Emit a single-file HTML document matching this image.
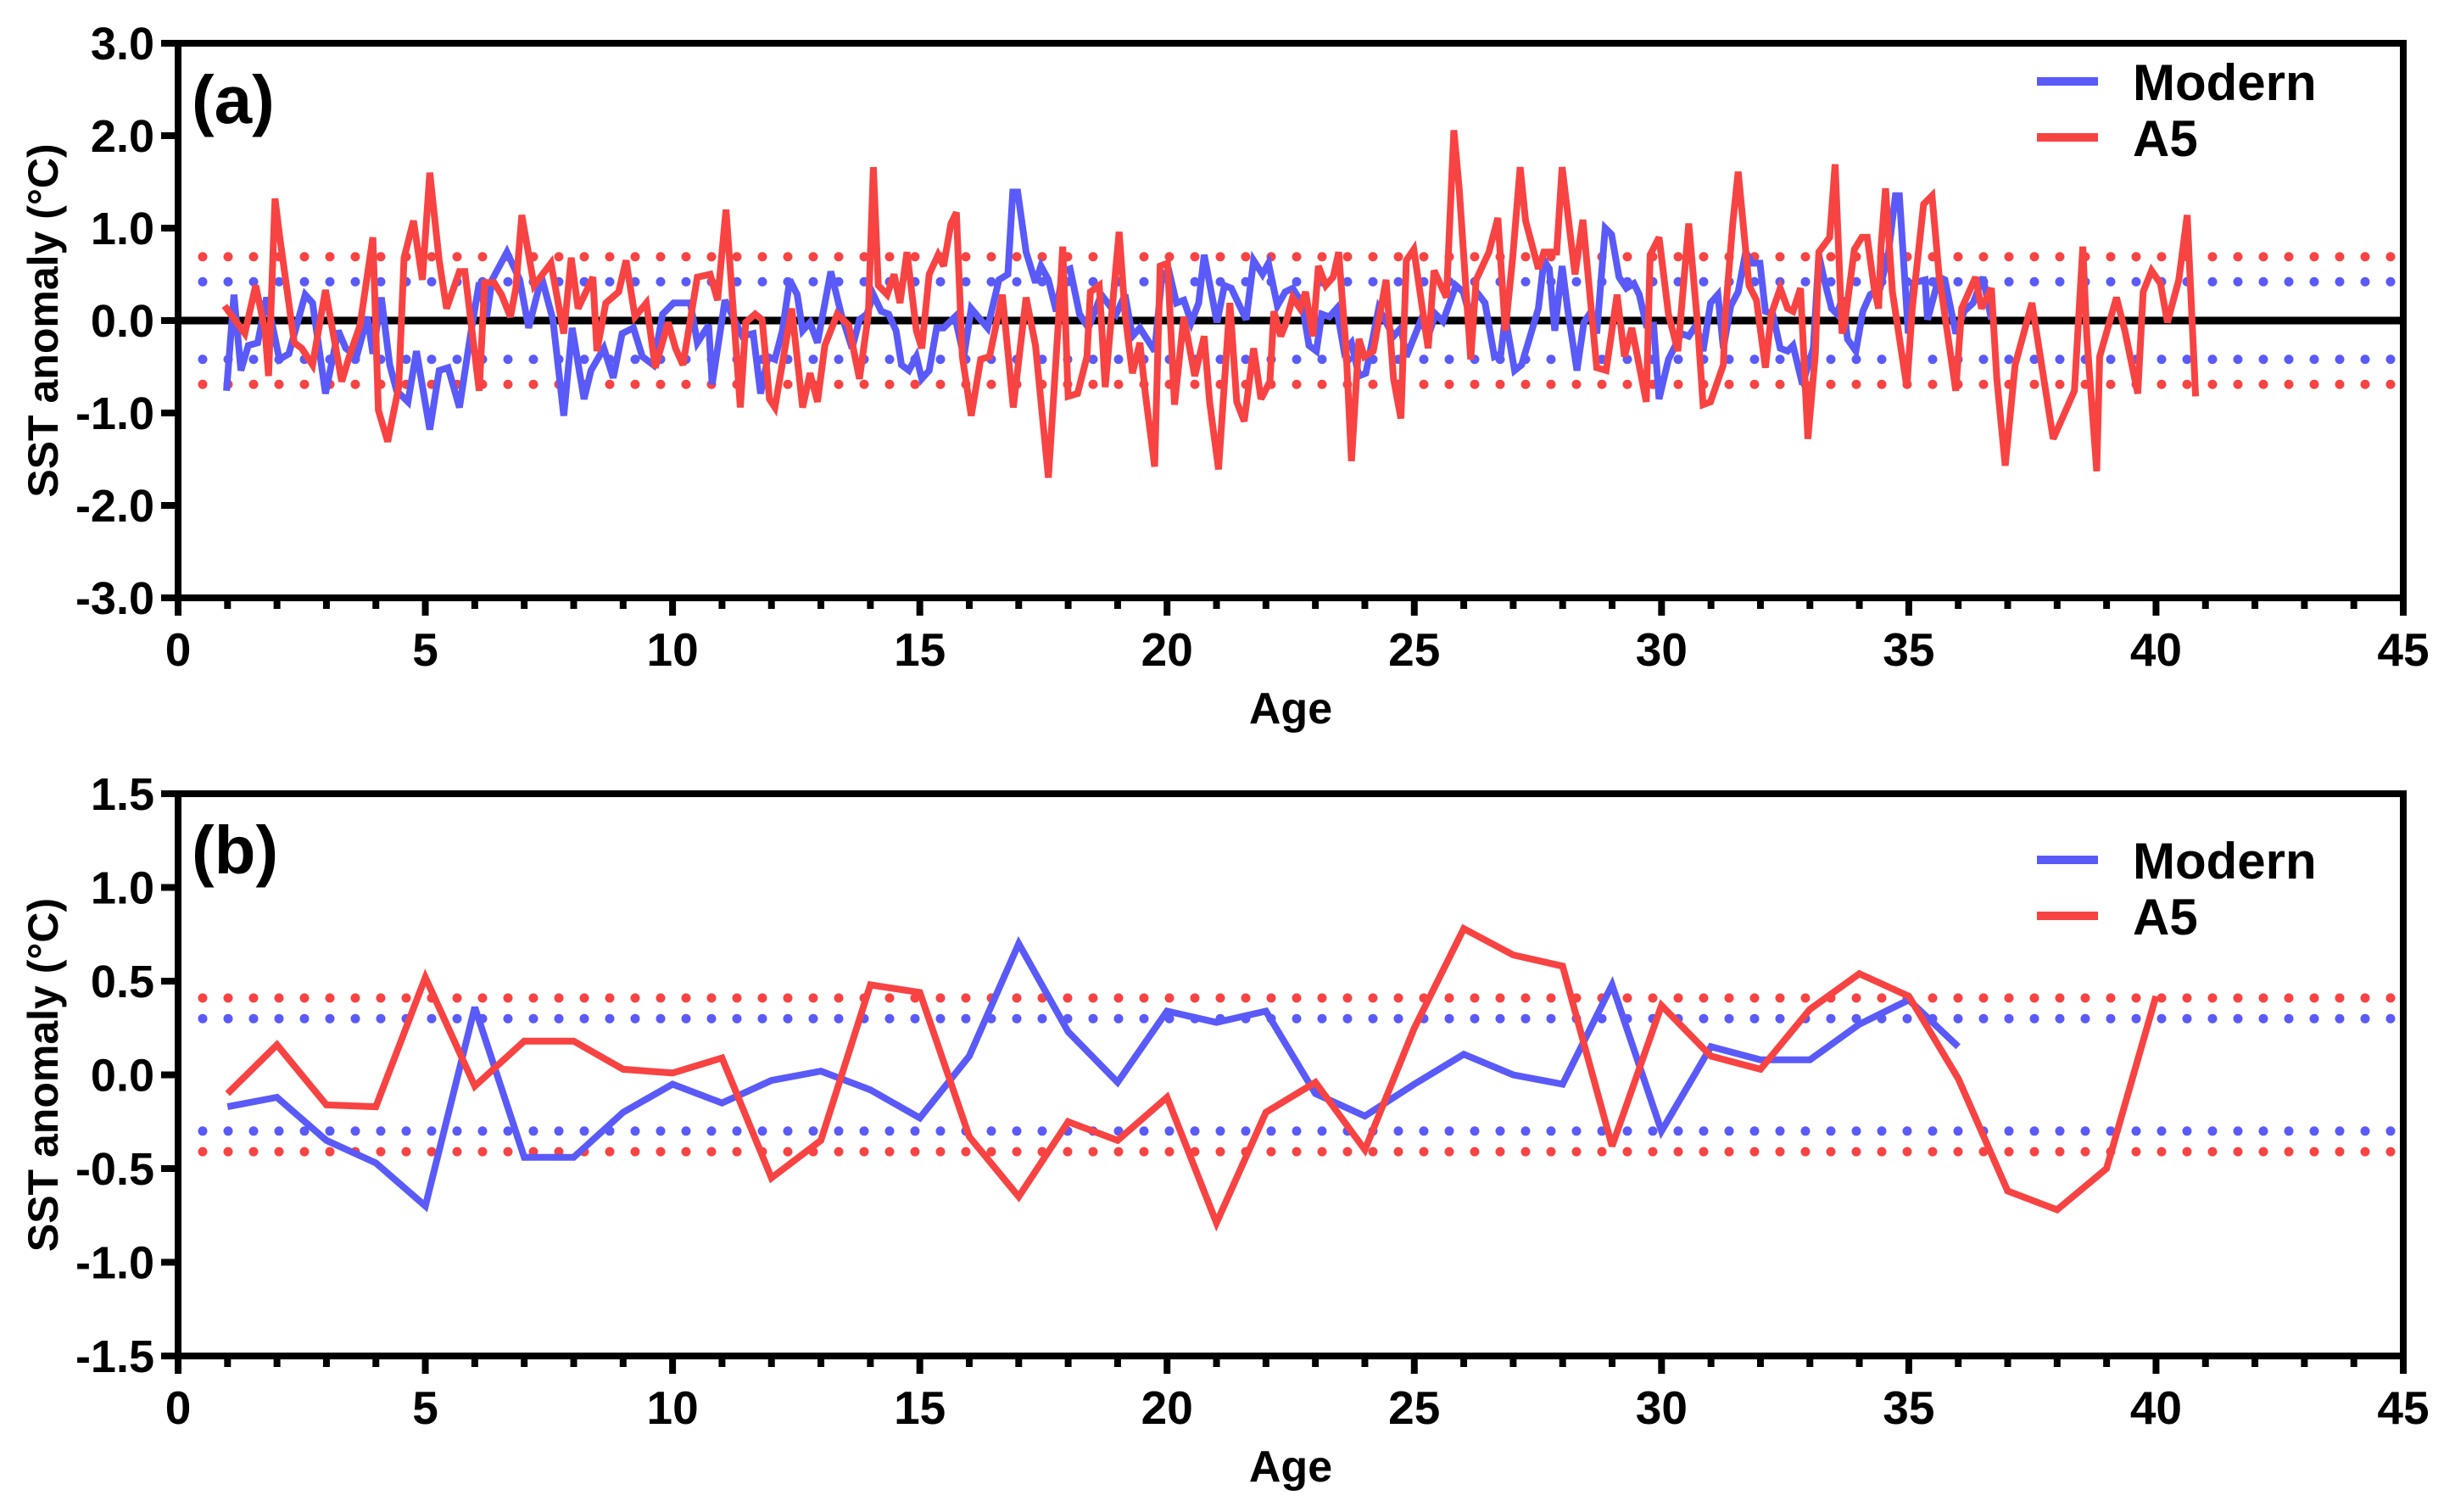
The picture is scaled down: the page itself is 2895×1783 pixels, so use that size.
<!DOCTYPE html>
<html><head><meta charset="utf-8">
<style>
html,body{margin:0;padding:0;background:#fff;}
svg{display:block;font-family:"Liberation Sans",Arial,sans-serif;font-weight:bold;}
</style></head>
<body>
<svg id="chart" width="2895" height="1783" viewBox="0 0 2895 1783" xmlns="http://www.w3.org/2000/svg">
<g id="panelA"></g>
<g id="panelB"></g>
</svg>
<script>
// ---------- Panel (a) data ----------
const modernAgeA = [0.98,1.13,1.27,1.42,1.61,1.79,2.05,2.24,2.57,2.72,2.98,3.24,3.39,3.61,3.83,3.94,4.11,4.28,4.42,4.65,4.82,5.09,5.28,5.46,5.69,5.91,6.09,6.24,6.35,6.65,6.91,7.09,7.35,7.58,7.80,7.97,8.21,8.35,8.61,8.80,8.98,9.21,9.39,9.61,9.80,10.02,10.36,10.50,10.73,10.80,11.06,
11.41,11.63,11.78,11.93,12.07,12.22,12.37,12.52,12.63,12.78,12.93,13.20,13.41,13.63,13.78,13.93,14.06,14.22,14.37,14.52,14.63,14.78,14.93,15.04,15.19,15.34,15.48,15.71,15.89,16.04,16.37,16.60,16.78,16.88,16.98,17.15,17.34,17.45,17.60,17.76,17.89,18.04,18.23,18.41,18.67,18.97,19.15,19.30,19.45,19.75,19.90,20.04,20.19,20.34,20.49,20.64,20.75,21.01,21.16,21.30,21.60,21.75,21.93,22.05,22.23,
22.39,22.54,22.73,22.87,23.02,23.13,23.28,23.43,23.58,23.73,23.88,24.02,24.28,24.58,24.73,24.84,25.14,25.28,25.43,25.58,25.84,25.99,26.14,26.26,26.43,26.62,26.75,26.84,27.03,27.17,27.51,27.62,27.73,27.84,27.99,28.10,28.29,28.43,28.58,28.69,28.86,28.99,29.14,29.29,29.44,29.55,29.69,29.84,29.95,30.14,30.40,30.55,30.70,30.84,30.99,31.14,31.25,31.40,31.55,31.70,31.84,31.99,32.10,32.25,32.40,32.55,32.66,32.85,33.07,33.18,33.29,33.44,33.55,33.66,
33.76,33.93,34.07,34.22,34.42,34.59,34.73,34.81,34.99,35.10,35.33,35.38,35.61,35.73,35.95,36.12,36.30,36.50,36.67];
const modernValA = [-0.76,0.28,-0.54,-0.27,-0.24,0.25,-0.42,-0.36,0.28,0.19,-0.79,-0.11,-0.30,-0.39,0.04,-0.36,0.25,-0.48,-0.76,-0.88,-0.33,-1.18,-0.54,-0.51,-0.94,-0.17,0.41,0.04,0.44,0.74,0.44,-0.08,0.47,0.01,-1.03,-0.08,-0.85,-0.54,-0.30,-0.62,-0.14,-0.08,-0.39,-0.48,0.07,0.19,0.19,-0.24,-0.05,-0.69,0.22,
-0.17,-0.14,-0.79,-0.39,-0.42,-0.11,0.44,0.28,-0.11,-0.02,-0.24,0.53,0.07,-0.30,0.01,0.07,0.28,0.10,0.07,-0.11,-0.48,-0.54,-0.39,-0.63,-0.54,-0.08,-0.08,0.04,-0.39,0.13,-0.08,0.44,0.50,1.39,1.39,0.74,0.41,0.59,0.44,0.10,0.53,0.56,0.07,-0.08,0.28,0.07,0.28,-0.17,-0.08,-0.33,0.50,0.53,0.19,0.22,-0.02,0.19,0.71,-0.02,0.38,0.35,0.01,0.65,0.50,0.62,0.16,
0.31,0.35,0.19,-0.27,-0.33,0.07,0.04,0.13,-0.33,-0.24,-0.60,-0.57,0.13,-0.17,-0.08,-0.39,0.01,-0.17,0.07,-0.01,0.38,0.31,0.01,0.31,0.19,-0.39,-0.36,0.04,-0.54,-0.48,0.13,0.65,0.56,-0.11,0.59,0.13,-0.54,-0.02,0.10,-0.14,1.00,0.93,0.47,0.35,0.40,0.28,-0.05,-0.05,-0.85,-0.42,-0.14,-0.17,-0.05,-0.33,0.19,0.28,-0.30,0.16,0.31,0.74,0.62,0.62,0.10,0.07,-0.30,-0.33,-0.27,-0.69,-0.30,0.71,0.44,0.13,0.07,0.25,
-0.20,-0.33,0.10,0.28,0.35,0.74,1.35,1.35,-0.14,0.41,0.44,0.01,0.47,0.44,-0.14,0.10,0.19,0.47,0.01];
const a5AgeA = [0.94,1.35,1.57,1.76,1.83,1.96,2.05,2.35,2.50,2.72,2.98,3.31,3.46,3.68,3.94,4.05,4.24,4.46,4.57,4.76,4.94,5.09,5.28,5.43,5.69,5.80,6.09,6.20,6.39,6.54,6.72,6.83,6.95,7.20,7.54,7.80,7.95,8.09,8.39,8.47,8.65,8.91,9.06,9.24,9.47,9.65,9.91,10.06,10.21,10.50,10.76,10.91,11.08,
11.37,11.48,11.67,11.81,11.96,12.07,12.41,12.63,12.78,12.93,13.08,13.33,13.56,13.78,13.96,14.06,14.16,14.34,14.48,14.60,14.74,14.93,15.04,15.19,15.37,15.48,15.63,15.74,15.86,16.04,16.23,16.41,16.67,16.89,17.15,17.34,17.60,17.82,17.89,18.00,18.19,18.38,18.45,18.63,18.75,18.89,19.03,19.15,19.30,19.45,19.56,19.75,19.86,20.01,20.15,20.34,20.56,20.75,20.86,21.04,21.27,21.41,21.56,21.75,21.90,22.08,22.16,22.30,
22.39,22.54,22.69,22.80,22.95,23.06,23.21,23.36,23.47,23.62,23.73,23.88,23.99,24.17,24.43,24.58,24.73,24.84,24.99,25.28,25.40,25.65,25.80,25.91,26.14,26.25,26.51,26.69,26.84,26.99,27.14,27.25,27.51,27.62,27.88,27.99,28.25,28.41,28.69,28.88,29.10,29.25,29.40,29.69,29.77,29.95,30.14,30.33,30.55,30.73,30.84,30.99,31.25,31.29,31.44,31.55,31.77,31.92,32.10,32.22,32.40,32.55,32.66,32.81,32.96,33.11,33.18,33.40,33.51,33.65,
33.70,33.90,34.05,34.16,34.30,34.39,34.44,34.53,34.67,34.96,35.07,35.30,35.47,35.61,35.95,36.07,36.12,36.35,36.47,36.67,36.78,36.95,37.15,37.49,37.92,38.35,38.52,38.60,38.80,38.86,39.20,39.37,39.63,39.74,39.91,40.09,40.23,40.46,40.63,40.80];
const a5ValA = [0.16,-0.14,0.38,-0.11,-0.60,1.32,0.93,-0.24,-0.30,-0.48,0.33,-0.66,-0.39,-0.05,0.90,-0.97,-1.31,-0.72,0.68,1.08,0.44,1.60,0.65,0.13,0.53,0.53,-0.76,0.41,0.41,0.28,0.04,0.35,1.14,0.38,0.62,-0.14,0.68,0.13,0.47,-0.33,0.19,0.31,0.65,0.04,0.19,-0.51,-0.02,-0.30,-0.48,0.47,0.50,0.22,1.20,
-0.94,-0.02,0.07,0.01,-0.85,-0.94,0.13,-0.94,-0.57,-0.88,-0.27,0.07,-0.05,-0.63,0.07,1.66,0.38,0.28,0.50,0.19,0.74,-0.11,-0.30,0.50,0.71,0.59,1.05,1.17,-0.39,-1.03,-0.42,-0.39,0.28,-0.94,0.25,-0.27,-1.70,0.13,0.80,-0.82,-0.79,-0.39,0.31,0.38,-0.72,0.13,0.96,0.07,-0.57,-0.24,-0.79,-1.58,0.59,0.62,-0.91,0.04,-0.60,-0.17,-0.88,-1.61,0.19,-0.88,-1.09,-0.30,-0.85,-0.66,0.10,-0.17,
-0.05,0.25,0.13,0.31,-0.17,0.59,0.38,0.47,0.74,-0.30,-1.52,-0.20,-0.39,-0.33,0.44,-0.63,-1.06,0.65,0.77,-0.30,0.54,0.25,2.06,1.42,-0.42,0.44,0.74,1.11,-0.11,0.68,1.66,1.08,0.56,0.74,0.74,1.66,0.50,1.09,-0.51,-0.54,0.28,-0.39,-0.08,-0.88,0.71,0.90,0.07,-0.33,1.05,-0.05,-0.91,-0.88,-0.48,0.07,1.05,1.61,0.38,0.22,-0.51,0.07,0.35,0.13,0.10,0.35,-1.28,-0.36,0.74,0.90,1.69,-0.14,
-0.05,0.77,0.90,0.90,0.35,0.13,0.80,1.43,0.31,-0.72,0.13,1.26,1.35,0.50,-0.76,0.13,0.19,0.47,0.13,0.35,-0.63,-1.57,-0.48,0.19,-1.28,-0.76,0.80,-0.17,-1.63,-0.39,0.25,-0.11,-0.79,0.31,0.54,0.40,-0.02,0.44,1.14,-0.82];
const modernBandA = [0.42, -0.42];
const a5BandA = [0.69, -0.69];

// ---------- Panel (b) data ----------
const modernAgeB = [1,2,3,4,5,6,7,8,9,10,11,12,13,14,15,16,17,18,19,20,21,22,23,24,25,26,27,28,29,30,31,32,33,34,35,36];
const modernValB = [-0.17,-0.12,-0.35,-0.47,-0.70,0.36,-0.44,-0.44,-0.20,-0.05,-0.15,-0.03,0.02,-0.08,-0.23,0.10,0.70,0.23,-0.04,0.34,0.28,0.34,-0.10,-0.22,-0.05,0.11,0.00,-0.05,0.48,-0.30,0.15,0.08,0.08,0.27,0.40,0.15];
const a5AgeB = [1,2,3,4,5,6,7,8,9,10,11,12,13,14,15,16,17,18,19,20,21,22,23,24,25,26,27,28,29,30,31,32,33,34,35,36,37,38,39,40];
const a5ValB = [-0.10,0.16,-0.16,-0.17,0.52,-0.06,0.18,0.18,0.03,0.01,0.09,-0.55,-0.35,0.48,0.44,-0.33,-0.65,-0.25,-0.35,-0.12,-0.79,-0.20,-0.04,-0.40,0.25,0.78,0.64,0.58,-0.38,0.37,0.10,0.03,0.35,0.54,0.42,-0.02,-0.62,-0.72,-0.50,0.42];
const modernBandB = [0.30, -0.30];
const a5BandB = [0.41, -0.41];

// ---------- Axis tick labels ----------
const xTicks = [0,5,10,15,20,25,30,35,40,45];
const yTicksA = [3,2,1,0,-1,-2,-3];
const yTickLabelsA = ["3.0","2.0","1.0","0.0","-1.0","-2.0","-3.0"];
const yTicksB = [1.5,1,0.5,0,-0.5,-1,-1.5];
const yTickLabelsB = ["1.5","1.0","0.5","0.0","-0.5","-1.0","-1.5"];

const NS = "http://www.w3.org/2000/svg";
const BLUE = "#5a5af8", RED = "#f84343";
const X0 = 210, X1 = 2834;
function xScale(a){ return X0 + (a/45)*(X1-X0); }
function mk(tag, attrs, parent){
  const e = document.createElementNS(NS, tag);
  for (const k in attrs) e.setAttribute(k, attrs[k]);
  parent.appendChild(e);
  return e;
}

function drawPanel(g, cfg){
  const yS = v => cfg.yZero - v*cfg.unit;
  const bands = [[cfg.a5Band, RED, "a5"], [cfg.modBand, BLUE, "modern"]];
  bands.forEach(([vals, col, nm]) => {
    vals.forEach((v, i) => {
      const l = mk("line", {x1: 239, x2: X1-6, y1: yS(v), y2: yS(v), stroke: col, "stroke-width": 11, "stroke-linecap": "round", "stroke-dasharray": "0 30"}, g);
      
      
    });
  });
  if (cfg.zeroLine) {
    const z = mk("line", {x1: X0, x2: X1, y1: yS(0), y2: yS(0), stroke: "#000", "stroke-width": 9}, g);
    
    
  }
  const series = [[cfg.modAge, cfg.modVal, BLUE, "modern-series-line"], [cfg.a5Age, cfg.a5Val, RED, "a5-series-line"]];
  series.forEach(([ages, vals, col, nm]) => {
    let d = "";
    ages.forEach((a, i) => { d += (i ? "L" : "M") + xScale(a).toFixed(1) + " " + yS(vals[i]).toFixed(1); });
    const p = mk("path", {d: d, fill: "none", stroke: col, "stroke-width": 8, "stroke-linejoin": "miter", "stroke-miterlimit": 3}, g);
    
    
  });
  const top = yS(cfg.yTicks[0]), bot = yS(cfg.yTicks[cfg.yTicks.length-1]);
  const fr = mk("rect", {x: X0, y: top, width: X1-X0, height: bot-top, fill: "none", stroke: "#000", "stroke-width": 8}, g);
  
  
  cfg.yTicks.forEach((v, i) => {
    const t = mk("line", {x1: X0-20, x2: X0, y1: yS(v), y2: yS(v), stroke: "#000", "stroke-width": 8}, g);
    
    
    const tx = mk("text", {x: 182, y: yS(v)+19, "text-anchor": "end", "font-size": 54, fill: "#000"}, g);
    tx.textContent = cfg.yLabels[i];
    
    
  });
  for (let a = 0; a <= 45; a++) {
    const major = a % 5 === 0;
    const t = mk("line", {x1: xScale(a), x2: xScale(a), y1: bot, y2: bot + (major ? 21 : 13), stroke: "#000", "stroke-width": 8}, g);
    
    
  }
  xTicks.forEach(a => {
    const tx = mk("text", {x: xScale(a), y: bot + 80, "text-anchor": "middle", "font-size": 55, fill: "#000"}, g);
    tx.textContent = String(a);
    
    
  });
  const xt = mk("text", {x: (X0+X1)/2, y: bot + 148, "text-anchor": "middle", "font-size": 52, fill: "#000"}, g);
  xt.textContent = "Age";
  
  
  const cy = (top+bot)/2;
  const yt = mk("text", {x: 0, y: 0, transform: "translate(68," + cy + ") rotate(-90)", "text-anchor": "middle", "font-size": 50, fill: "#000"}, g);
  yt.textContent = "SST anomaly (°C)";
  
  
  const pl = mk("text", {x: 226, y: top + 94, "font-size": 80, fill: "#000"}, g);
  pl.textContent = cfg.label;
  
  
  const lg = mk("g", {}, g);
  
  
  [["Modern", BLUE, 0], ["A5", RED, 1]].forEach(([name, col, i]) => {
    const by = cfg.legendY + i*66;
    const ln = mk("line", {x1: 2402, x2: 2474, y1: by-22, y2: by-22, stroke: col, "stroke-width": 10}, lg);
    
    
    const tx = mk("text", {x: 2515, y: by, "font-size": 60, fill: "#000"}, lg);
    tx.textContent = name;
    
    
  });
}

drawPanel(document.getElementById("panelA"), {
  yZero: 378, unit: 109, yTicks: yTicksA, yLabels: yTickLabelsA, zeroLine: true,
  modAge: modernAgeA, modVal: modernValA, a5Age: a5AgeA, a5Val: a5ValA,
  modBand: modernBandA, a5Band: a5BandA, label: "(a)", legendY: 118
});
drawPanel(document.getElementById("panelB"), {
  yZero: 1267.5, unit: 221, yTicks: yTicksB, yLabels: yTickLabelsB, zeroLine: false,
  modAge: modernAgeB, modVal: modernValB, a5Age: a5AgeB, a5Val: a5ValB,
  modBand: modernBandB, a5Band: a5BandB, label: "(b)", legendY: 1036
});
</script>
</body></html>
